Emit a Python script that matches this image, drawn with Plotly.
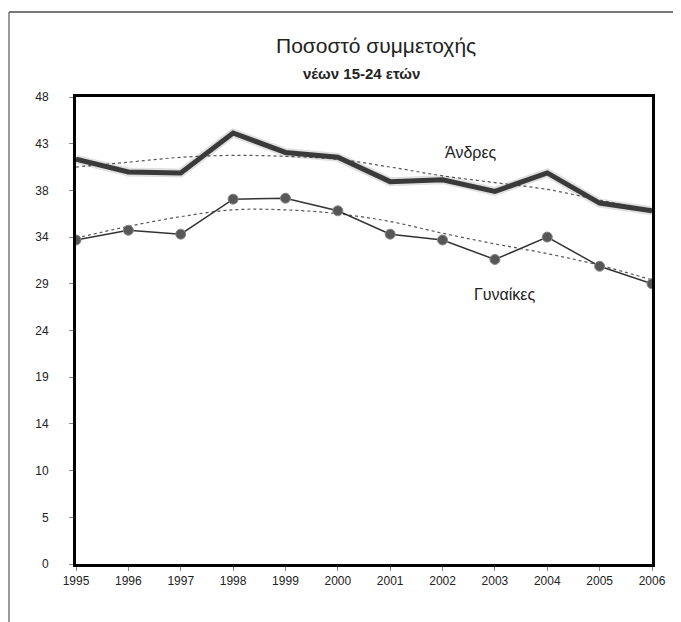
import plotly.graph_objects as go

years = [1995, 1996, 1997, 1998, 1999, 2000, 2001, 2002, 2003, 2004, 2005, 2006]
men = [41.6, 40.3, 40.2, 44.3, 42.3, 41.8, 39.3, 39.5, 38.3, 40.2, 37.1, 36.3]
women = [33.3, 34.3, 33.9, 37.5, 37.6, 36.3, 33.9, 33.3, 31.3, 33.6, 30.6, 28.8]
men_trend = [40.8, 41.3, 41.8, 42.0, 41.9, 41.6, 40.8, 39.9, 39.2, 38.5, 37.4, 36.3]
women_trend = [33.5, 34.7, 35.7, 36.4, 36.4, 36.0, 35.2, 34.0, 32.9, 31.9, 30.7, 29.2]
ytick_vals = [0, 4.8, 9.6, 14.4, 19.2, 24, 28.8, 33.6, 38.4, 43.2, 48]
ytick_text = ["0", "5", "10", "14", "19", "24", "29", "34", "38", "43", "48"]
title_text = "Ποσοστό συμμετοχής"
subtitle_text = "νέων 15-24 ετών"
men_label = "Άνδρες"
women_label = "Γυναίκες"

font_family = "Liberation Sans, Arial, sans-serif"

fig = go.Figure()
fig.add_trace(go.Scatter(x=years, y=men_trend, mode="lines",
                         line=dict(color="#555", width=1.2, dash="dot", shape="spline"), hoverinfo="skip"))
fig.add_trace(go.Scatter(x=years, y=women_trend, mode="lines",
                         line=dict(color="#555", width=1.2, dash="dot", shape="spline"), hoverinfo="skip"))
fig.add_trace(go.Scatter(x=years, y=men, mode="lines", line=dict(color="rgba(0,0,0,0.12)", width=9)))
fig.add_trace(go.Scatter(x=years, y=men, mode="lines", line=dict(color="#3a3a3a", width=5)))
fig.add_trace(go.Scatter(x=years, y=women, mode="lines+markers", line=dict(color="#333", width=1.5),
                         marker=dict(color="#575757", size=10, line=dict(color="#888", width=1))))

fig.update_layout(
    width=673, height=614,
    margin=dict(l=68, r=29, t=89, b=58),
    paper_bgcolor="white", plot_bgcolor="white",
    showlegend=False,
    font=dict(family=font_family, size=12, color="#222"),
    xaxis=dict(range=[1995, 2006], tickvals=years, ticks="outside", ticklen=4, tickcolor="#888",
               showgrid=False, zeroline=False, showline=True, linecolor="black", linewidth=3, mirror=True,
               tickfont=dict(size=12, color="#222")),
    yaxis=dict(range=[0, 48], tickvals=ytick_vals, ticktext=ytick_text, ticks="outside", ticklen=4,
               tickcolor="#888", showgrid=False, zeroline=False, showline=True, linecolor="black",
               linewidth=3, mirror=True, ticklabelstandoff=18, tickfont=dict(size=12, color="#222")),
)

fig.add_annotation(x=0.521, y=1.111, xref="paper", yref="paper", text=title_text, showarrow=False,
                   xanchor="center", yanchor="middle",
                   font=dict(family=font_family, size=21, color="#222"))
fig.add_annotation(x=0.496, y=1.051, xref="paper", yref="paper", text="<b>" + subtitle_text + "</b>",
                   showarrow=False, xanchor="center", yanchor="middle",
                   font=dict(family=font_family, size=15, color="#222"))
fig.add_annotation(x=2002.55, y=42.3, text=men_label, showarrow=False, yanchor="middle",
                   font=dict(family=font_family, size=16, color="#222"))
fig.add_annotation(x=2003.2, y=27.7, text=women_label, showarrow=False, yanchor="middle",
                   font=dict(family=font_family, size=16, color="#222"))

# outer frame
fig.add_shape(type="line", xref="paper", yref="paper", x0=-0.1163, x1=1.06, y0=1.182, y1=1.182,
              line=dict(color="#777", width=2))
fig.add_shape(type="line", xref="paper", yref="paper", x0=-0.1163, x1=-0.1163, y0=1.182, y1=-0.13,
              line=dict(color="#777", width=1.5))

fig.write_html("out.html")
